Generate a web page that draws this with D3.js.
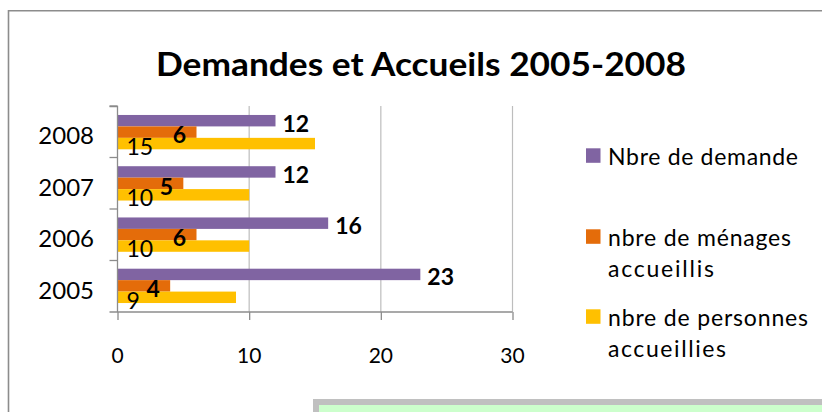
<!DOCTYPE html>
<html><head><meta charset="utf-8">
<script src="https://cdn.jsdelivr.net/npm/d3@7"></script>
<style>
html,body{margin:0;padding:0;background:#fff;}
svg{display:block;font-family:Lato,"Open Sans",sans-serif;}
</style></head>
<body>
<svg id="chart" width="822" height="412"></svg>
<script>
const title = "Demandes et Accueils 2005-2008";
const years = ["2008", "2007", "2006", "2005"];
const seriesNames = ["Nbre de demande", "nbre de ménages accueillis", "nbre de personnes accueillies"];
const seriesColors = ["#8064A2", "#E46C0A", "#FFC000"];
const demandes = [12, 12, 16, 23];
const menages = [6, 5, 6, 4];
const personnes = [15, 10, 10, 9];
const xTicks = [0, 10, 20, 30];
const legendLines = [["Nbre de demande"], ["nbre de ménages", "accueillis"], ["nbre de personnes", "accueillies"]];

const series = [demandes, menages, personnes];
const svg = d3.select("#chart");

// outer frame
svg.append("rect").attr("x", 0).attr("y", 0).attr("width", 822).attr("height", 412).attr("fill", "#fff");
svg.append("path").attr("d", "M8.5,412 V10.75 H822").attr("fill", "none").attr("stroke", "#8c8c8c").attr("stroke-width", 1.6);

// title
svg.append("text").attr("x", 421).attr("y", 76).attr("text-anchor", "middle")
  .attr("font-size", 33).attr("font-weight", "bold").attr("fill", "#000")
  .attr("textLength", 530).attr("lengthAdjust", "spacingAndGlyphs").text(title);

const x = d3.scaleLinear().domain([0, 30]).range([117.5, 512.5]);
const y = d3.scaleBand().domain(years).range([106, 312]).paddingInner(0.33).paddingOuter(0.175);
const ySub = d3.scaleBand().domain([0, 1, 2]).range([0, y.bandwidth()]);
const yOuter = d3.scaleBand().domain(years).range([106, 312]);

// gridlines
svg.append("g").selectAll("line").data(xTicks.filter(t => t > 0)).join("line")
  .attr("x1", d => x(d)).attr("x2", d => x(d)).attr("y1", 106).attr("y2", 312)
  .attr("stroke", "#bdbdbd").attr("stroke-width", 1.2);

// bars
series.forEach((vals, si) => {
  svg.append("g").selectAll("rect").data(years).join("rect")
    .attr("x", x(0)).attr("y", (d) => y(d) + ySub(si))
    .attr("width", (d, i) => x(vals[i]) - x(0))
    .attr("height", ySub.bandwidth())
    .attr("fill", seriesColors[si]);
});

// axes
const yAxis = d3.axisLeft(yOuter).tickSize(8).tickFormat("");
const gy = svg.append("g").attr("transform", `translate(${x(0)},0)`).call(yAxis);
gy.selectAll(".tick line").attr("transform", (d) => `translate(0,${-yOuter.bandwidth()/2})`);
gy.select(".domain").attr("d", `M-8,106.5H0V312`);
gy.selectAll("path,line").attr("stroke", "#8c8c8c").attr("stroke-width", 1.3);

const xAxis = d3.axisBottom(x).tickValues(xTicks).tickSize(8).tickFormat("");
const gx = svg.append("g").attr("transform", "translate(0,312)").call(xAxis);
gx.select(".domain").attr("d", `M${x(0) - 8},0H${x(30)}`);
gx.selectAll("path,line").attr("stroke", "#8c8c8c").attr("stroke-width", 1.3);

// year labels
svg.append("g").selectAll("text").data(years).join("text")
  .attr("x", 94).attr("y", d => yOuter(d) + yOuter.bandwidth()/2 + 4 + 8.7)
  .attr("text-anchor", "end").attr("font-size", 24).attr("fill", "#000").text(d => d);

// x tick labels
svg.append("g").selectAll("text").data(xTicks).join("text")
  .attr("x", d => x(d)).attr("y", 363.3).attr("text-anchor", "middle")
  .attr("font-size", 21).attr("fill", "#000").text(d => d);

// data labels
svg.append("g").selectAll("text").data(years).join("text")
  .attr("x", (d, i) => x(demandes[i]) + 7).attr("y", d => y(d) + ySub(0) + ySub.bandwidth()/2 + 2.8 + 8.2)
  .attr("font-size", 23).attr("font-weight", "bold").attr("fill", "#000").text((d, i) => demandes[i]);
svg.append("g").selectAll("text").data(years).join("text")
  .attr("x", (d, i) => x(menages[i]) - 17).attr("y", d => y(d) + ySub(1) + ySub.bandwidth()/2 + 3 + 8.2)
  .attr("text-anchor", "middle")
  .attr("font-size", 23).attr("font-weight", "bold").attr("fill", "#000").text((d, i) => menages[i]);
svg.append("g").selectAll("text").data(years).join("text")
  .attr("x", x(0) + 9).attr("y", d => y(d) + ySub(2) + ySub.bandwidth()/2 + 3 + 8.3)
  .attr("font-size", 23).attr("fill", "#000").text((d, i) => personnes[i]);

// legend
const legendY = [148.3, 229.3, 309.3];
const lineWidths = [[190], [183, 106], [200, 118]];
const lg = svg.append("g");
legendLines.forEach((lines, i) => {
  lg.append("rect").attr("x", 586).attr("y", legendY[i]).attr("width", 14.5).attr("height", 14.5).attr("fill", seriesColors[i]);
  lines.forEach((ln, j) => {
    lg.append("text").attr("x", 608).attr("y", legendY[i] + 16.8 + j * 31)
      .attr("font-size", 23).attr("fill", "#000")
      .attr("textLength", lineWidths[i][j]).attr("lengthAdjust", "spacing").text(ln);
  });
});

// green box at the bottom
svg.append("rect").attr("x", 313).attr("y", 399).attr("width", 509).attr("height", 13).attr("fill", "#c0c0c0");
svg.append("rect").attr("x", 319).attr("y", 405).attr("width", 503).attr("height", 7).attr("fill", "#ccffcc");
</script>
</body></html>
